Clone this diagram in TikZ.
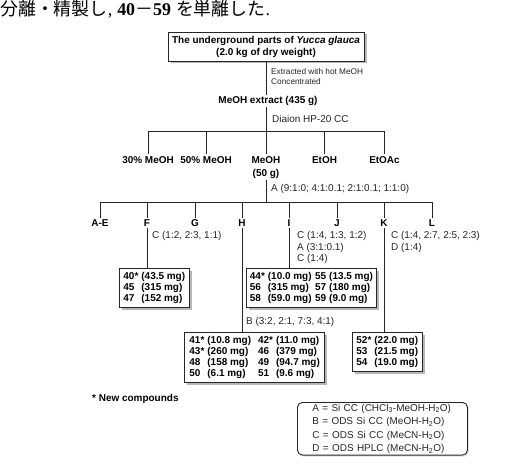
\documentclass[tikz,border=0pt]{standalone}
\usepackage{fontspec}
\setmainfont{Liberation Sans}
\newfontfamily\jpfont{Noto Sans CJK JP}
\newfontfamily\seriffont{Liberation Serif}
\usetikzlibrary{shadows}
\begin{document}
\begin{tikzpicture}[x=1bp,y=-1bp,
  lbl/.style={font=\fontsize{10}{13}\selectfont\bfseries, inner sep=1.5bp, align=center, anchor=north},
  note/.style={font=\fontsize{10}{11.5}\selectfont, inner sep=0pt, anchor=west, align=left, text=black!85},
  small/.style={font=\fontsize{8.3}{10}\selectfont, inner sep=0pt, anchor=west, align=left, text=black!85},
  cbox/.style={draw=black!85, fill=white, line width=0.9bp, font=\fontsize{10}{11}\selectfont\bfseries,
    inner xsep=4bp, inner ysep=3bp, anchor=north west,
    drop shadow={shadow xshift=2.5bp, shadow yshift=-2.5bp, fill=black!35, opacity=0.8}},
  legendbox/.style={draw=black!85, fill=white, line width=0.9bp, rounded corners=5bp,
    font=\fontsize{10}{13.5}\selectfont, text=black!85, align=left, text width=140bp,
    inner xsep=15bp, inner ysep=1.5bp, anchor=north west,
    drop shadow={shadow xshift=1.5bp, shadow yshift=-1.5bp, fill=black!15, opacity=0.8}},
  conn/.style={draw=black!85, line width=0.9bp}]
\useasboundingbox (0,0) rectangle (514,464);
\fill[white] (0,0) rectangle (514,464);

% Japanese header line
\node[anchor=base west, inner sep=0pt, font=\fontsize{18}{20}\selectfont] (jp) at (0,15.5)
  {{\jpfont 分離・精製し}{\seriffont ,} {\seriffont\bfseries 40}{\jpfont －}{\seriffont\bfseries 59} {\jpfont を単離した}{\seriffont .}};

% top box
\node[cbox, anchor=center, font=\fontsize{10}{12}\selectfont\bfseries, align=center,
  minimum width=196bp, minimum height=29bp] (src) at (266,46.5)
  {The underground parts of \textit{Yucca glauca}\\(2.0 kg of dry weight)};
\node[small] (extr) at (271,77) {Extracted with hot MeOH\\Concentrated};
\node[lbl, anchor=center] (ext) at (268,101) {MeOH extract (435 g)};
\draw[conn] (src.south) -- (src.south |- ext.north);

% Diaion level
\coordinate (b1) at (266,131);
\draw[conn] (ext.south -| b1) -- (b1);
\node[note] (dia) at (272,119) {Diaion HP-20 CC};
\node[lbl] (m30) at (148,154.5) {30\% MeOH};
\node[lbl] (m50) at (206,154.5) {50\% MeOH};
\node[lbl] (meoh) at (266,154.5) {MeOH\\(50 g)};
\node[lbl] (etoh) at (324.5,154.5) {EtOH};
\node[lbl] (etoac) at (384.5,154.5) {EtOAc};
\foreach \n in {m30,m50,meoh,etoh,etoac} \draw[conn] (\n.north) |- (b1);

% second level
\coordinate (b2) at (266,202);
\draw[conn] (meoh.south) -- (b2);
\node[note] (colA) at (271,189) {A (9:1:0; 4:1:0.1; 2:1:0.1; 1:1:0)};
\node[lbl] (fAE) at (100,218) {A-E};
\node[lbl] (fF) at (147,218) {F};
\node[lbl] (fG) at (195,218) {G};
\node[lbl] (fH) at (242,218) {H};
\node[lbl] (fI) at (289,218) {I};
\node[lbl] (fJ) at (337,218) {J};
\node[lbl] (fK) at (384,218) {K};
\node[lbl] (fL) at (432,218) {L};
\foreach \n in {fAE,fF,fG,fH,fI,fJ,fK,fL} \draw[conn] (\n.north) |- (b2);

% F branch
\node[note] (cF) at (152,236) {C (1:2, 2:3, 1:1)};
\node[cbox] (boxF) at (119,268)
  {\begin{tabular}{@{}l@{\hspace{3bp}}l@{}}40* & (43.5 mg)\\45 & (315 mg)\\47 & (152 mg)\end{tabular}};
\draw[conn] (fF.south) -- (fF.south |- boxF.north);

% I branch
\node[note, font=\fontsize{10}{11.5}\selectfont] (cI) at (297,247.5) {C (1:4, 1:3, 1:2)\\A (3:1:0.1)\\C (1:4)};
\node[cbox, inner xsep=3.5bp] (boxI) at (246,268)
  {\begin{tabular}{@{}l@{\hspace{3bp}}l@{\hspace{3.5bp}}l@{\hspace{3bp}}l@{}}44* & (10.0 mg) & 55 & (13.5 mg)\\56 & (315 mg) & 57 & (180 mg)\\58 & (59.0 mg) & 59 & (9.0 mg)\end{tabular}};
\draw[conn] (fI.south) -- (fI.south |- boxI.north);

% H branch
\node[note] (bH) at (246,322) {B (3:2, 2:1, 7:3, 4:1)};
\node[cbox, inner xsep=5bp] (boxH) at (184,332)
  {\begin{tabular}{@{}l@{\hspace{3bp}}l@{\hspace{7bp}}l@{\hspace{3bp}}l@{}}41* & (10.8 mg) & 42* & (11.0 mg)\\43* & (260 mg) & 46 & (379 mg)\\48 & (158 mg) & 49 & (94.7 mg)\\50 & (6.1 mg) & 51 & (9.6 mg)\end{tabular}};
\draw[conn] (fH.south) -- (fH.south |- boxH.north);

% K branch
\node[note] (cK) at (391,242) {C (1:4, 2:7, 2:5, 2:3)\\D (1:4)};
\node[cbox] (boxK) at (352,332)
  {\begin{tabular}{@{}l@{\hspace{3bp}}l@{}}52* & (22.0 mg)\\53 & (21.5 mg)\\54 & (19.0 mg)\end{tabular}};
\draw[conn] (fK.south) -- (fK.south |- boxK.north);

% footnote and legend
\node[lbl, anchor=west, inner sep=0pt] (newc) at (92,399) {* New compounds};
\node[legendbox] (leg) at (297,402)
  {A = Si CC (CHCl\textsubscript{3}-MeOH-H\textsubscript{2}O)\\
   B = ODS Si CC (MeOH-H\textsubscript{2}O)\\
   C = ODS Si CC (MeCN-H\textsubscript{2}O)\\
   D = ODS HPLC (MeCN-H\textsubscript{2}O)};
\end{tikzpicture}
\end{document}
